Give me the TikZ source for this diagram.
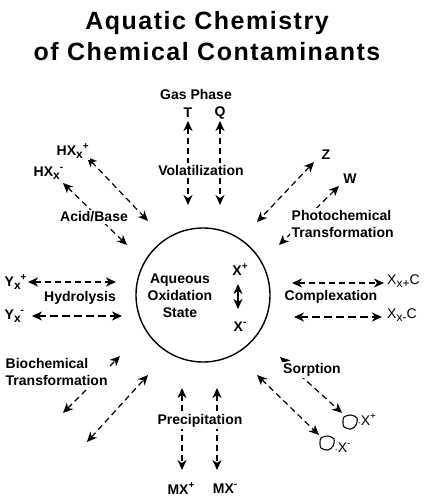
\documentclass[tikz,border=0pt]{standalone}
\usepackage{fontspec}
\setmainfont{Liberation Sans}
\usetikzlibrary{arrows.meta}
\newcommand\lo[1]{\raisebox{-0.45ex}{\fontsize{12}{12}\selectfont #1}}
\newcommand\hi[1]{\raisebox{0.8ex}{\fontsize{10}{10}\selectfont #1}}
\tikzset{
  x=1pt, y=-1pt,
  headtip/.tip ={Stealth[length=10pt,width=9pt,inset=3pt]},
  titletext/.style ={anchor=base,inner sep=0pt,font=\fontsize{25}{30}\selectfont\bfseries\addfontfeatures{LetterSpace=6}},
  lbl/.style  ={font=\fontsize{14}{17}\selectfont\bfseries,inner sep=1.5pt,fill=white},
  plain/.style={font=\fontsize{14}{17}\selectfont,inner sep=1pt},
  flow/.style ={dash pattern=on 6pt off 4pt,line width=1.2pt,headtip-headtip},
  heavyflow/.style={flow,line width=2pt,dash pattern=on 8pt off 4pt},
  pool/.style ={circle,draw,line width=1.4pt,minimum size=134pt,inner sep=0pt},
  blob/.style ={line width=1.1pt},
}
\begin{document}
\begin{tikzpicture}
  \path[use as bounding box,fill=white] (0,0) rectangle (424,500);

  % title
  \node[titletext] (title1) at (207,30) {Aquatic Chemistry};
  \node[titletext] (title2) at (207,61) {of Chemical Contaminants};

  % central pool
  \node[pool] (pool) at (203,295) {};

  % dashed exchange arrows
  \foreach \n/\xa/\ya/\xb/\yb in {
      volT/188/121/188/205, volQ/220/121/220/205,
      acidP/87/157/148/221, acidM/63/183/127/245,
      photZ/314/162/257/222, photW/339/186/279/245,
      hydP/28/282/116/282, cplP/292/283/384/283,
      bioA/63/413/120/356, bioB/87/442/148/375,
      preP/182/388/182/470, preM/217/388/217/470,
      sorA/280/357/342/413, sorB/257/375/319/435}{
    \coordinate (\n1) at (\xa,\ya);
    \coordinate (\n2) at (\xb,\yb);
    \draw[flow] (\n1) -- (\n2);
  }
  \foreach \n/\xa/\ya/\xb/\yb in {hydM/32/316/122/316, cplM/294/317/382/317}{
    \coordinate (\n1) at (\xa,\ya);
    \coordinate (\n2) at (\xb,\yb);
    \draw[heavyflow] (\n1) -- (\n2);
  }

  % labels
  \node[lbl] (gas) at (196,94) {Gas Phase};
  \node[lbl] (T) at (188,113) {T};
  \node[lbl] (Q) at (220,113) {Q};
  \node[lbl] (vol) at (201,170) {Volatilization};
  \node[lbl,anchor=west] (hxp) at (55,151) {HX\lo{x}\hi{+}};
  \node[lbl,anchor=west] (hxm) at (32,173) {HX\lo{x}\hi{-}};
  \node[lbl] (acid) at (94,217) {Acid/Base};
  \node[lbl] (Z) at (326,155) {Z};
  \node[lbl] (W) at (350,179) {W};
  \node[lbl,anchor=west,align=left] (phot) at (290,223.5) {Photochemical\\Transformation};
  \node[lbl,align=center,fill=none] (aq) at (180,296) {Aqueous\\Oxidation\\State};
  \node[lbl,fill=none] (xp) at (240,270) {X\hi{+}};
  \node[lbl,fill=none] (xm) at (240,327) {X\hi{-}};
  \coordinate (ox1) at (238,284);
  \coordinate (ox2) at (238,309);
  \draw[line width=1.2pt,headtip-headtip] (ox1) -- (ox2);
  \node[lbl,anchor=west] (yp) at (3,282) {Y\lo{x}\hi{+}};
  \node[lbl,anchor=west] (ym) at (3,316) {Y\lo{x}\hi{-}};
  \node[lbl] (hyd) at (80,298) {Hydrolysis};
  \node[plain,anchor=west] (xxp) at (386,281) {X\lo{x+}C};
  \node[plain,anchor=west] (xxm) at (386,315) {X\lo{x-}C};
  \node[lbl] (cpl) at (331,297) {Complexation};
  \node[lbl,anchor=west,align=left] (bio) at (4,371.5) {Biochemical\\Transformation};
  \node[lbl] (pre) at (200,421) {Precipitation};
  \node[lbl] (mxp) at (181,489) {MX\hi{+}};
  \node[lbl] (mxm) at (225,489) {MX\hi{-}};
  \node[lbl] (sor) at (312,370) {Sorption};

  % sorbent particles
  \foreach \bx/\by in {350/422, 327/443}{
    \draw[blob] plot[smooth cycle] coordinates {({\bx-6},{\by-5}) ({\bx+1},{\by-7}) ({\bx+7},{\by-4}) ({\bx+6},{\by+3}) ({\bx+1},{\by+7}) ({\bx-6},{\by+5}) ({\bx-7},{\by})};
  }
  \node[plain,anchor=west] (sxp) at (357,420) {{\fontsize{8}{8}\selectfont -}X\hi{+}};
  \node[plain,anchor=west] (sxm) at (334,448) {{\fontsize{8}{8}\selectfont -}X\hi{-}};
\end{tikzpicture}
\end{document}
